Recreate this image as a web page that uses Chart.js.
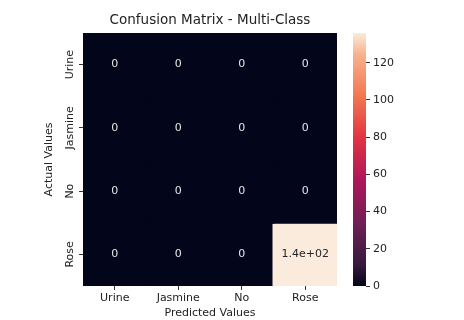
<!DOCTYPE html>
<html>
<head>
<meta charset="utf-8">
<script src="https://cdn.jsdelivr.net/npm/chart.js@4"></script>
<style>
  body { margin: 0; background: #fff; }
  canvas { display: block; }
</style>
</head>
<body>
<canvas id="cm" width="464" height="320"></canvas>
<script>
// labels for both axes
const predictedLabels = ['Urine', 'Jasmine', 'No', 'Rose'];
const actualLabels = ['Urine', 'Jasmine', 'No', 'Rose'];

// one row per actual class
const rowUrine = [0, 0, 0, 0];
const rowJasmine = [0, 0, 0, 0];
const rowNo = [0, 0, 0, 0];
const rowRose = [0, 0, 0, 136];
const matrixRows = [rowUrine, rowJasmine, rowNo, rowRose];

// colorbar
const colorbarMax = 136;
const colorbarTicks = [0, 20, 40, 60, 80, 100, 120];

const chartTitle = 'Confusion Matrix - Multi-Class';
const FONT = "'DejaVu Sans', sans-serif";

// rough samples of seaborn's rocket colormap
const rocketStops = [
    [0.0, [3, 5, 26]],
    [0.083, [53, 25, 62]],
    [0.25, [112, 31, 87]],
    [0.417, [173, 23, 89]],
    [0.583, [225, 51, 66]],
    [0.75, [243, 118, 81]],
    [0.917, [246, 180, 143]],
    [1.0, [250, 235, 221]]
];

function rocket(t) {
    t = Math.max(0, Math.min(1, t));
    for (let i = 1; i < rocketStops.length; i++) {
        const [t1, c1] = rocketStops[i];
        const [t0, c0] = rocketStops[i - 1];
        if (t <= t1) {
            const f = (t - t0) / (t1 - t0);
            const c = c0.map((v, k) => Math.round(v + (c1[k] - v) * f));
            return `rgb(${c[0]},${c[1]},${c[2]})`;
        }
    }
    return 'rgb(250,235,221)';
}

// same as python's '.2g'
function fmt2g(v) {
    if (v === 0) return '0';
    const e = Math.floor(Math.log10(Math.abs(v)));
    if (e < -4 || e >= 2) {
        const parts = v.toExponential(1).split('e');
        const sign = parts[1][0];
        let exp = parts[1].slice(1);
        if (exp.length < 2) exp = '0' + exp;
        return parts[0] + 'e' + sign + exp;
    }
    return String(Number(v.toPrecision(2)));
}

// each row is a dataset of floating bars spanning [row, row+1]
const datasets = matrixRows.map((row, r) => ({
    label: actualLabels[r],
    data: row.map(() => [r, r + 1]),
    values: row,
    backgroundColor: row.map(v => rocket(v / colorbarMax)),
    borderWidth: 0,
    inflateAmount: 1,
    barPercentage: 1,
    categoryPercentage: 1,
    grouped: false
}));

// draws the title, the numbers in the cells and the colorbar
const heatmapExtras = {
    id: 'heatmapExtras',
    afterDatasetsDraw(chart) {
        const ctx = chart.ctx;
        const area = chart.chartArea;
        ctx.save();

        // cell annotations
        ctx.font = '11px ' + FONT;
        ctx.textAlign = 'center';
        ctx.textBaseline = 'middle';
        chart.data.datasets.forEach((ds, i) => {
            const meta = chart.getDatasetMeta(i);
            meta.data.forEach((bar, j) => {
                const v = ds.values[j];
                ctx.fillStyle = v / colorbarMax > 0.5 ? '#262626' : '#e6e6e6';
                ctx.fillText(fmt2g(v), bar.x, (bar.y + bar.base) / 2);
            });
        });

        // colorbar
        const cb = chart.scales.cb;
        const y0 = cb.getPixelForValue(0);
        const y1 = cb.getPixelForValue(colorbarMax);
        const grad = ctx.createLinearGradient(0, y0, 0, y1);
        rocketStops.forEach(([t]) => grad.addColorStop(t, rocket(t)));
        ctx.fillStyle = grad;
        ctx.fillRect(cb.left - 13, y1, 13, y0 - y1);

        // title
        ctx.fillStyle = '#222';
        ctx.font = '13.5px ' + FONT;
        ctx.fillText(chartTitle, (area.left + area.right) / 2, 20.5);
        ctx.restore();
    }
};

Chart.defaults.font.family = FONT;
Chart.defaults.color = '#222';

new Chart(document.getElementById('cm'), {
    type: 'bar',
    data: {
        labels: predictedLabels,
        datasets: datasets
    },
    options: {
        responsive: false,
        animation: false,
        layout: { padding: { top: 33, left: 0, right: 0, bottom: 0 } },
        plugins: {
            legend: { display: false },
            tooltip: { enabled: false }
        },
        scales: {
            x: {
                type: 'category',
                offset: true,
                grid: { offset: false, drawOnChartArea: false, tickLength: 4, color: '#333' },
                border: { display: false },
                ticks: { font: { size: 11 }, padding: 2, maxRotation: 0 },
                title: { display: true, text: 'Predicted Values', font: { size: 11 }, padding: { top: 0, bottom: 0 } },
                afterFit(scale) { scale.height = 34; }
            },
            y: {
                type: 'linear',
                position: 'left',
                min: 0,
                max: 4,
                reverse: true,
                grid: { drawOnChartArea: false, tickLength: 4, color: '#333' },
                border: { display: false },
                afterBuildTicks(scale) {
                    scale.ticks = actualLabels.map((_, i) => ({ value: i + 0.5 }));
                },
                ticks: {
                    font: { size: 11 },
                    minRotation: 90,
                    maxRotation: 90,
                    crossAlign: 'center',
                    padding: -13,
                    callback: (value, index) => actualLabels[index]
                },
                title: { display: true, text: 'Actual Values', font: { size: 11 }, padding: { top: 43, bottom: 0 } },
                afterFit(scale) { scale.width = 83; }
            },
            // empty axis that leaves room for the colorbar
            gap: {
                type: 'linear',
                axis: 'y',
                position: 'right',
                weight: 0,
                grid: { display: false },
                border: { display: false },
                ticks: { display: false },
                afterFit(scale) { scale.width = 29; }
            },
            cb: {
                type: 'linear',
                axis: 'y',
                position: 'right',
                weight: 1,
                min: 0,
                max: colorbarMax,
                afterBuildTicks(scale) {
                    scale.ticks = colorbarTicks.map(v => ({ value: v }));
                },
                grid: { drawOnChartArea: false, tickLength: 4, color: '#333' },
                border: { display: false },
                ticks: { font: { size: 11 }, padding: 3 },
                afterFit(scale) { scale.width = 98; }
            }
        }
    },
    plugins: [heatmapExtras]
});
</script>
</body>
</html>
